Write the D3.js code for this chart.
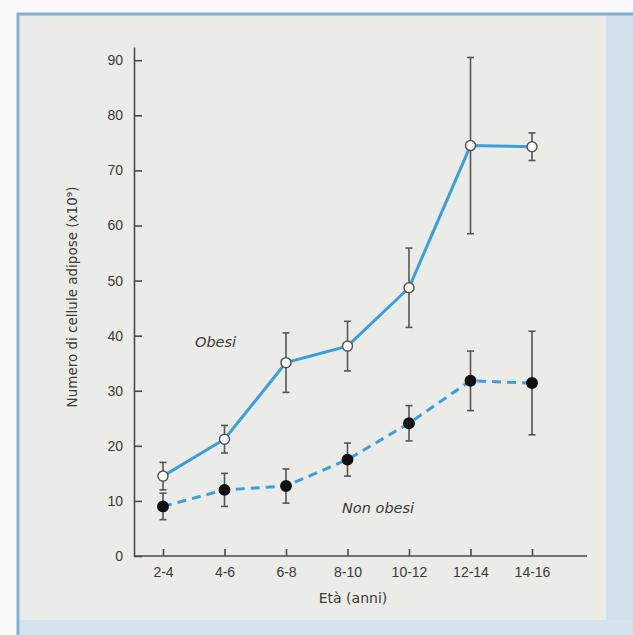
<!DOCTYPE html>
<html>
<head>
<meta charset="utf-8">
<script src="https://cdn.jsdelivr.net/npm/d3@7"></script>
<style>
  html, body { margin: 0; padding: 0; background: #fbfbfb; }
  svg { display: block; font-family: "DejaVu Sans", "Liberation Sans", sans-serif; }
  .axis text { font-size: 14px; fill: #3a3a3a; }
  .axis path, .axis line { stroke: #4a4a4a; stroke-width: 1.6; }
</style>
</head>
<body>
<svg width="633" height="635"></svg>
<script>

  // DATA

  var ageGroups = ["2-4", "4-6", "6-8", "8-10", "10-12", "12-14", "14-16"];
  var obeseMean = [14.5, 21.2, 35.1, 38.1, 48.7, 74.5, 74.3];
  var obeseErr  = [2.5, 2.5, 5.4, 4.5, 7.2, 16, 2.5];
  var leanMean  = [9.0, 12.0, 12.7, 17.5, 24.1, 31.8, 31.4];
  var leanErr   = [2.4, 3.0, 3.1, 3.0, 3.2, 5.4, 9.4];
  var yTicks    = [0, 10, 20, 30, 40, 50, 60, 70, 80, 90];

  // SETUP

  var svg = d3.select("svg"),
    margin = { top: 47, right: 46, bottom: 79, left: 134 },
    width = 633 - margin.left - margin.right,
    height = 635 - margin.top - margin.bottom;

  // page panel + scanned blue frame
  svg.append("rect").attr("x", 17).attr("y", 13).attr("width", 616).attr("height", 622)
    .attr("fill", "#ebebe7");
  svg.append("rect").attr("x", 606).attr("y", 13).attr("width", 27).attr("height", 622)
    .attr("fill", "#d3e0ec");
  svg.append("rect").attr("x", 17).attr("y", 620).attr("width", 616).attr("height", 15)
    .attr("fill", "#d6e2ed");
  svg.append("line").attr("x1", 17).attr("x2", 633).attr("y1", 14).attr("y2", 14)
    .attr("stroke", "#7fb0dc").attr("stroke-width", 3);
  svg.append("line").attr("x1", 18).attr("x2", 18).attr("y1", 13).attr("y2", 635)
    .attr("stroke", "#7fb0dc").attr("stroke-width", 3);

  var g = svg.append("g")
    .attr("transform", "translate(" + margin.left + "," + margin.top + ")");

  var x = d3.scalePoint().domain(ageGroups).range([29, 398]);
  var y = d3.scaleLinear().domain([0, 92.4]).range([height, 0]);

  // AXES

  g.append("g")
    .attr("class", "axis axis--x")
    .attr("transform", "translate(0," + height + ")")
    .call(d3.axisBottom(x).tickSize(-7).tickSizeOuter(0).tickPadding(9))
    .call(function (a) {
      a.select(".domain").attr("d", "M0,0H" + width);
      a.selectAll("text").attr("dy", "0.85em");
    });

  g.append("g")
    .attr("class", "axis axis--y")
    .call(d3.axisLeft(y).tickValues(yTicks).tickSize(-8).tickSizeOuter(0).tickPadding(11));

  g.append("text")
    .attr("transform", "rotate(-90)")
    .attr("x", -250)
    .attr("y", -57)
    .attr("text-anchor", "middle")
    .attr("font-size", 13.5)
    .attr("fill", "#3a3a3a")
    .text("Numero di cellule adipose (x10⁹)");

  g.append("text")
    .attr("x", 219)
    .attr("y", height + 47)
    .attr("text-anchor", "middle")
    .attr("font-size", 14)
    .attr("fill", "#3a3a3a")
    .text("Età (anni)");

  // SERIES

  function drawSeries(means, errs, dashed, filled) {
    var pts = ageGroups.map(function (k, i) { return { k: k, m: means[i], e: errs[i] }; });

    var eb = g.append("g").selectAll("g").data(pts).enter().append("g")
      .attr("stroke", "#555").attr("stroke-width", 1.6);
    eb.append("line")
      .attr("x1", function (d) { return x(d.k); }).attr("x2", function (d) { return x(d.k); })
      .attr("y1", function (d) { return y(d.m - d.e); }).attr("y2", function (d) { return y(d.m + d.e); });
    eb.append("line")
      .attr("x1", function (d) { return x(d.k) - 3.5; }).attr("x2", function (d) { return x(d.k) + 3.5; })
      .attr("y1", function (d) { return y(d.m + d.e); }).attr("y2", function (d) { return y(d.m + d.e); });
    eb.append("line")
      .attr("x1", function (d) { return x(d.k) - 3.5; }).attr("x2", function (d) { return x(d.k) + 3.5; })
      .attr("y1", function (d) { return y(d.m - d.e); }).attr("y2", function (d) { return y(d.m - d.e); });

    g.append("path")
      .datum(pts)
      .attr("fill", "none")
      .attr("stroke", "#3b9fdc")
      .attr("stroke-width", 3)
      .attr("stroke-dasharray", dashed ? "9,6" : null)
      .attr("d", d3.line().x(function (d) { return x(d.k); }).y(function (d) { return y(d.m); }));

    g.append("g").selectAll("circle").data(pts).enter().append("circle")
      .attr("cx", function (d) { return x(d.k); })
      .attr("cy", function (d) { return y(d.m); })
      .attr("r", filled ? 5.2 : 5)
      .attr("fill", filled ? "#111" : "#fff")
      .attr("stroke", filled ? "#111" : "#555")
      .attr("stroke-width", 1.5);
  }

  drawSeries(obeseMean, obeseErr, false, false);
  drawSeries(leanMean, leanErr, true, true);

  // LABELS

  g.append("text")
    .attr("x", 61).attr("y", y(38))
    .attr("font-size", 14.5).attr("font-style", "italic").attr("fill", "#3a3a3a")
    .text("Obesi");

  g.append("text")
    .attr("x", 208).attr("y", y(7.8))
    .attr("font-size", 14.5).attr("font-style", "italic").attr("fill", "#3a3a3a")
    .text("Non obesi");

</script>
</body>
</html>
